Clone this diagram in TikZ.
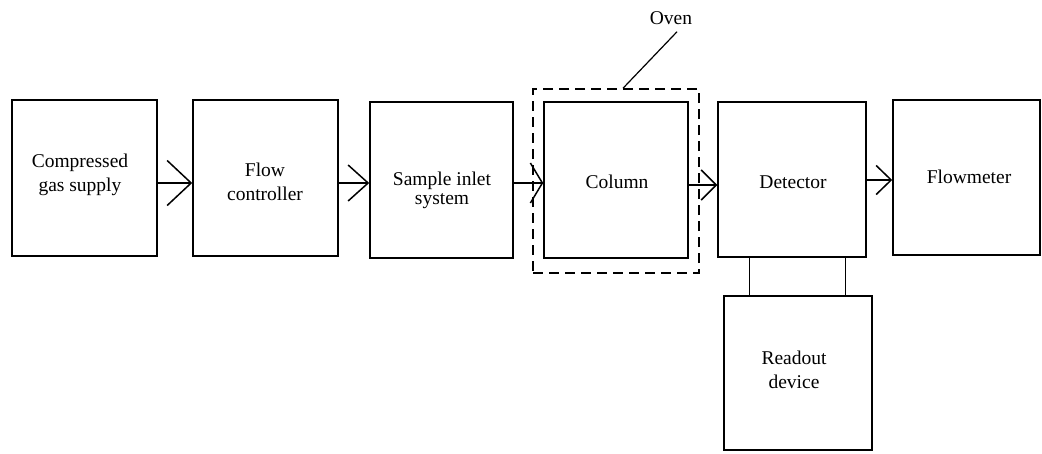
\documentclass[tikz,border=0pt]{standalone}
\usepackage{fontspec}
\setmainfont{Liberation Serif}
\usetikzlibrary{arrows.meta,calc}
\begin{document}
\begin{tikzpicture}[x=1pt,y=-1pt,
  box/.style={draw,line width=1.5pt,inner sep=0pt},
  lbl/.style={font=\fontsize{19.5}{24}\selectfont,align=center,inner sep=0pt},
  flow/.style={line width=1.5pt},
  link/.style={line width=1.2pt},
  ovenbox/.style={draw,line width=1.5pt,dash pattern=on 10pt off 6pt,inner sep=0pt}]
\useasboundingbox (0,0) rectangle (1042,453);
% boxes
\node[box,minimum width=145pt,minimum height=156pt] (b1) at (84.5,178) {};
\node[box,minimum width=145pt,minimum height=156pt] (b2) at (265.5,178) {};
\node[box,minimum width=143pt,minimum height=156pt] (b3) at (441.5,180) {};
\node[box,minimum width=144pt,minimum height=156pt] (col) at (616,180) {};
\node[box,minimum width=148pt,minimum height=155pt] (det) at (792,179.5) {};
\node[box,minimum width=147pt,minimum height=155pt] (fm) at (966.5,177.5) {};
\node[box,minimum width=148pt,minimum height=154pt] (ro) at (798,373) {};
\node[ovenbox,minimum width=166pt,minimum height=184pt] (oven) at (616,181) {};
% texts
\node[lbl] (t1) at (80,175) {Compressed\\gas supply};
\node[lbl] (t2) at (265,182) {Flow\\controller};
\node[lbl,font=\fontsize{19.5}{19}\selectfont] (t3) at (442,190) {Sample inlet\\system};
\node[lbl] (t4) at (617,182) {Column};
\node[lbl] (t5) at (793,182) {Detector};
\node[lbl] (t6) at (969,177) {Flowmeter};
\node[lbl] (t7) at (794,370) {Readout\\device};
\node[lbl] (t8) at (671,18) {Oven};
% flow arrows
\draw[flow,-{Straight Barb[length=24pt,width=45pt]}] ([yshift=-5pt]b1.east) -- ([yshift=-5pt]b1.east -| b2.west);
\draw[flow,-{Straight Barb[length=20pt,width=36pt]}] ([yshift=-5pt]b2.east) -- ([yshift=-5pt]b2.east -| b3.west);
\draw[flow,-{Straight Barb[length=12pt,width=40pt]}] ([yshift=-3pt]b3.east) -- ([yshift=-3pt]b3.east -| col.west);
\draw[flow,-{Straight Barb[length=15pt,width=30pt]}] ([yshift=-5pt]col.east) -- ([yshift=-5pt]col.east -| det.west);
\draw[flow,-{Straight Barb[length=15pt,width=29pt]}] ([yshift=-0.5pt]det.east) -- ([yshift=-0.5pt]det.east -| fm.west);
% oven pointer
\draw[link] ([shift={(6pt,-7pt)}]t8.south) -- ([xshift=7pt]oven.north);
% detector to readout
\draw[link] ([xshift=32pt]det.south west) -- ([xshift=32pt]det.south west |- ro.north);
\draw[link] ([xshift=128pt]det.south west) -- ([xshift=128pt]det.south west |- ro.north);
\end{tikzpicture}
\end{document}
